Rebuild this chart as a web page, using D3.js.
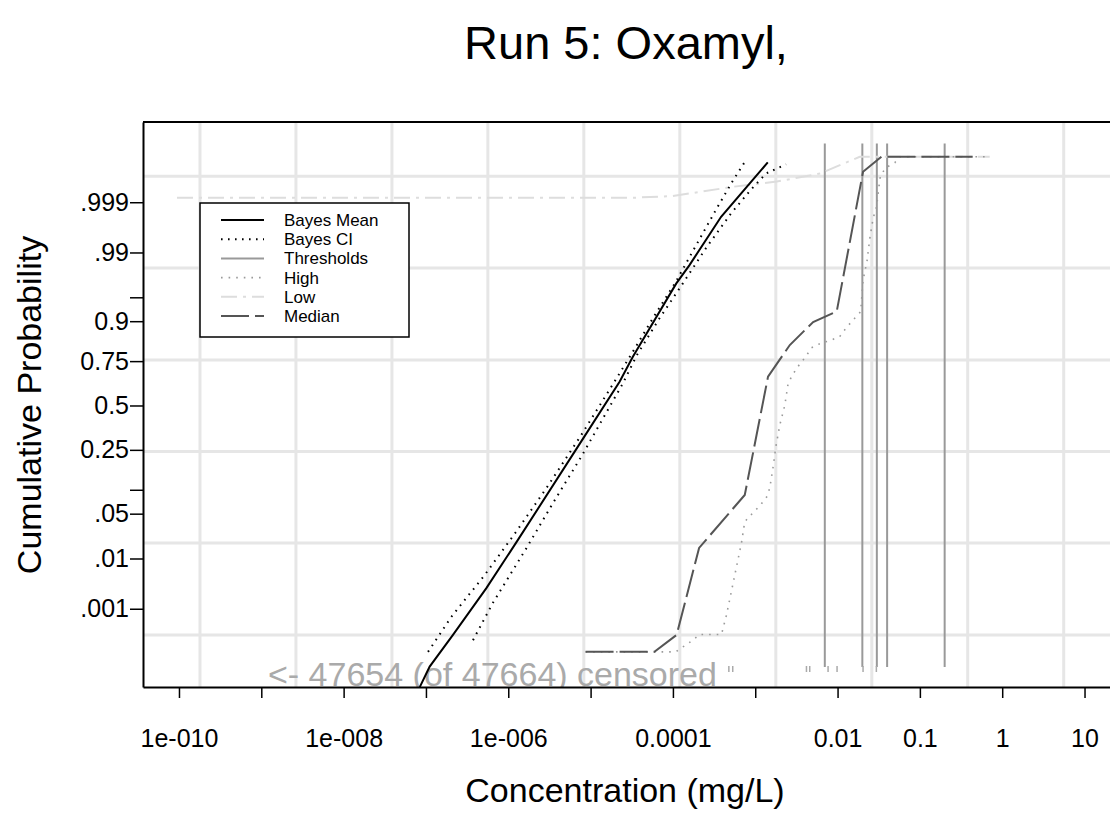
<!DOCTYPE html>
<html>
<head>
<meta charset="utf-8">
<script src="https://cdn.jsdelivr.net/npm/d3@7"></script>
<style>
body{margin:0;background:#fff}
svg{display:block;font-family:Arial,"Liberation Sans",sans-serif}
</style>
</head>
<body>
<svg id="canvas"></svg>
<script>
// values: concentration (mg/L) vs cumulative probability
let meanConc = [8.41e-8, 1.11e-7, 2.13e-7, 5.42e-7, 1.31e-6, 7.01e-6, 2.25e-5, 3.26e-5, 1.10e-4, 1.59e-4, 3.85e-4, 9.33e-4, 1.42e-3]
let meanProb = [9.3e-6, 3.6e-5, 2.43e-4, 0.00274, 0.0205, 0.2657, 0.6413, 0.7709, 0.9683, 0.9836, 0.99794, 0.99970, 0.999890]

let ciLowConc = [1.06e-7, 2.04e-7, 5.18e-7, 1.25e-6, 2.90e-6, 7.71e-6, 1.95e-5, 3.12e-5, 5.70e-5, 1.08e-4, 1.92e-4, 3.41e-4, 5.33e-4, 7.40e-4]
let ciLowProb = [9.0e-5, 6.6e-4, 0.0050, 0.0276, 0.1042, 0.3271, 0.6413, 0.7817, 0.9074, 0.9697, 0.99264, 0.99864, 0.99968, 0.999890]

let ciHighConc = [3.73e-7, 6.52e-7, 1.66e-6, 3.48e-6, 7.71e-6, 2.47e-5, 3.65e-5, 6.87e-5, 1.32e-4, 2.54e-4, 5.09e-4, 8.91e-4, 1.355e-3, 2.37e-3]
let ciHighProb = [1.8e-4, 0.00136, 0.0150, 0.0686, 0.2183, 0.6319, 0.7785, 0.9074, 0.9683, 0.99176, 0.99826, 0.99949, 0.99979, 0.999877]

let medianConc = [8.69e-6, 5.96e-5, 1.11e-4, 2.08e-4, 7.46e-4, 1.43e-3, 2.63e-3, 5.05e-3, 9.77e-3, 0.0204, 0.0341, 0.438]
let medianProb = [9.0e-5, 9.0e-5, 2.43e-4, 0.01516, 0.0869, 0.6693, 0.8209, 0.8978, 0.9235, 0.99981, 0.999922, 0.999922]

let highConc = [8.69e-6, 1.08e-4, 1.68e-4, 2.12e-4, 3.89e-4, 4.48e-4, 6.81e-4, 7.46e-4, 9.26e-4, 1.135e-3, 1.37e-3, 1.50e-3, 1.65e-3, 1.78e-3, 1.99e-3, 2.29e-3, 2.51e-3, 2.88e-3, 3.41e-3, 4.11e-3, 4.82e-3, 6.25e-3, 8.03e-3, 0.0106, 0.0126, 0.0154, 0.0191, 0.0204, 0.0228, 0.0246, 0.0270, 0.0297, 0.0319, 0.0332, 0.0385, 0.0495, 0.0569, 0.705]
let highProb = [9.0e-5, 9.0e-5, 1.7e-4, 2.5e-4, 2.5e-4, 7.3e-4, 0.0185, 0.0387, 0.0507, 0.0634, 0.0815, 0.1042, 0.1762, 0.2657, 0.3836, 0.503, 0.632, 0.684, 0.731, 0.771, 0.810, 0.828, 0.838, 0.852, 0.8796, 0.903, 0.923, 0.9717, 0.98595, 0.99435, 0.99777, 0.99871, 0.999575, 0.99976, 0.99985, 0.999888, 0.999922, 0.999922]

let lowConc = [9.46e-11, 3.26e-5, 9.98e-5, 5.35e-4, 1.83e-3, 6.17e-3, 0.0186, 0.705]
let lowProb = [0.999206, 0.999206, 0.999274, 0.999558, 0.999668, 0.99979, 0.999922, 0.999922]

let thresholds = [0.007, 0.02, 0.03, 0.04, 0.2]
let thresholdProbRange = [3.5e-5, 0.999966]
let detectConc = [4.78e-4, 5.33e-4, 4.19e-3, 4.59e-3, 7.67e-3, 9.86e-3, 0.0204, 0.0296]

let xTickValues = [1e-10, 1e-9, 1e-8, 1e-7, 1e-6, 1e-5, 1e-4, 1e-3, 1e-2, 1e-1, 1, 10]
let xTickLabels = ['1e-010', '', '1e-008', '', '1e-006', '', '0.0001', '', '0.01', '0.1', '1', '10']
let yTickProbs = [0.001, 0.01, 0.05, 0.1, 0.25, 0.5, 0.75, 0.9, 0.95, 0.99, 0.999]
let yTickLabels = ['.001', '.01', '.05', '', '0.25', '0.5', '0.75', '0.9', '', '.99', '.999']
// grid lines (log10 of concentration, normal scores)
let xGridExp = [-9.745, -8.579, -7.413, -6.248, -5.082, -3.916, -2.750, -1.584, -0.419, 0.747]
let yGridScores = [-3.49, -2.09, -0.70, 0.69, 2.09, 3.485]

let legendNames = ['Bayes Mean', 'Bayes CI', 'Thresholds', 'High', 'Low', 'Median']

let width = 1110
let height = 829
let plotLeft = 143, plotRight = 1114, plotTop = 122, plotBottom = 687

// inverse normal cdf (Acklam)
let probit = (p) => {
    let a = [-3.969683028665376e+01, 2.209460984245205e+02, -2.759285104469687e+02, 1.383577518672690e+02, -3.066479806614716e+01, 2.506628277459239e+00]
    let b = [-5.447609879822406e+01, 1.615858368580409e+02, -1.556989798598866e+02, 6.680131188771972e+01, -1.328068155288572e+01]
    let c = [-7.784894002430293e-03, -3.223964580411365e-01, -2.400758277161838e+00, -2.549732539343734e+00, 4.374664141464968e+00, 2.938163982698783e+00]
    let d = [7.784695709041462e-03, 3.224671290700398e-01, 2.445134137142996e+00, 3.754408661907416e+00]
    let pl = 0.02425
    if (p < pl) {
        let q = Math.sqrt(-2 * Math.log(p))
        return (((((c[0]*q+c[1])*q+c[2])*q+c[3])*q+c[4])*q+c[5]) / ((((d[0]*q+d[1])*q+d[2])*q+d[3])*q+1)
    } else if (p <= 1 - pl) {
        let q = p - 0.5, r = q * q
        return (((((a[0]*r+a[1])*r+a[2])*r+a[3])*r+a[4])*r+a[5])*q / (((((b[0]*r+b[1])*r+b[2])*r+b[3])*r+b[4])*r+1)
    } else {
        let q = Math.sqrt(-2 * Math.log(1 - p))
        return -(((((c[0]*q+c[1])*q+c[2])*q+c[3])*q+c[4])*q+c[5]) / ((((d[0]*q+d[1])*q+d[2])*q+d[3])*q+1)
    }
}

let xScale = d3.scaleLog().domain([Math.pow(10, -10.437), Math.pow(10, 1.358)]).range([plotLeft, plotRight])
let zScale = d3.scaleLinear().domain([-4.28, 4.31]).range([plotBottom, plotTop])
let yScale = (p) => zScale(probit(p))

let svg = d3.select('#canvas').attr('width', width).attr('height', height)

svg.append('defs').append('clipPath').attr('id', 'plotclip')
   .append('rect').attr('x', plotLeft).attr('y', plotTop).attr('width', plotRight - plotLeft).attr('height', plotBottom - plotTop)

let plot = svg.append('g').attr('clip-path', 'url(#plotclip)')

// grid
plot.selectAll('.vgrid').data(xGridExp).enter().append('line')
    .attr('x1', (e) => xScale(Math.pow(10, e))).attr('x2', (e) => xScale(Math.pow(10, e)))
    .attr('y1', plotTop).attr('y2', plotBottom)
    .attr('stroke', '#e6e6e6').attr('stroke-width', 3)
plot.selectAll('.hgrid').data(yGridScores).enter().append('line')
    .attr('y1', (z) => zScale(z)).attr('y2', (z) => zScale(z))
    .attr('x1', plotLeft).attr('x2', plotRight)
    .attr('stroke', '#e6e6e6').attr('stroke-width', 3)

// censored note
plot.append('text')
    .attr('x', 268).attr('y', plotBottom - 1)
    .attr('fill', '#aaaaaa').attr('font-size', 34)
    .text('<- 47654 (of 47664) censored')

let line = d3.line().x((d) => xScale(d[0])).y((d) => yScale(d[1]))
let pairs = (xs, ps) => xs.map((v, i) => [v, ps[i]])

let styles = {
    'Bayes Mean': {stroke: '#000', width: 2, dash: null},
    'Bayes CI': {stroke: '#000', width: 2, dash: '1.6,5.4'},
    'Thresholds': {stroke: '#999', width: 2, dash: null},
    'High': {stroke: '#9a9a9a', width: 1.6, dash: '1.6,6'},
    'Low': {stroke: '#dddddd', width: 2, dash: '16,6,3,6'},
    'Median': {stroke: '#555', width: 2, dash: '28,6'}
}

let drawPath = (data, name) => {
    let s = styles[name]
    plot.append('path')
        .datum(data)
        .attr('d', line)
        .attr('fill', 'none')
        .attr('stroke', s.stroke)
        .attr('stroke-width', s.width)
        .attr('stroke-dasharray', s.dash)
}

// thresholds
plot.selectAll('.thr').data(thresholds).enter().append('line')
    .attr('x1', (t) => xScale(t)).attr('x2', (t) => xScale(t))
    .attr('y1', yScale(thresholdProbRange[1])).attr('y2', yScale(thresholdProbRange[0]))
    .attr('stroke', '#999').attr('stroke-width', 2)

// detected values rug
plot.selectAll('.rug').data(detectConc).enter().append('line')
    .attr('x1', (c) => xScale(c)).attr('x2', (c) => xScale(c))
    .attr('y1', plotBottom - 21).attr('y2', plotBottom - 15)
    .attr('stroke', '#aaa').attr('stroke-width', 1.5)

drawPath(pairs(lowConc, lowProb), 'Low')
drawPath(pairs(highConc, highProb), 'High')
drawPath(pairs(medianConc, medianProb), 'Median')
drawPath(pairs(ciLowConc, ciLowProb), 'Bayes CI')
drawPath(pairs(ciHighConc, ciHighProb), 'Bayes CI')
drawPath(pairs(meanConc, meanProb), 'Bayes Mean')

// legend
let legend = svg.append('g')
legend.append('rect')
    .attr('x', 200).attr('y', 203).attr('width', 209).attr('height', 134)
    .attr('fill', '#fff').attr('stroke', '#000').attr('stroke-width', 1.5)
legendNames.forEach((name, i) => {
    let s = styles[name]
    let y = 220 + i * 19.2
    legend.append('line')
        .attr('x1', 221).attr('x2', 264).attr('y1', y).attr('y2', y)
        .attr('stroke', s.stroke).attr('stroke-width', s.width)
        .attr('stroke-dasharray', s.dash)
    legend.append('text')
        .attr('x', 284).attr('y', y + 6)
        .attr('font-size', 17)
        .text(name)
})

// axes
let xAxis = d3.axisBottom(xScale)
    .tickValues(xTickValues)
    .tickFormat((d, i) => xTickLabels[i])
    .tickSize(11).tickSizeOuter(0).tickPadding(31)
let yAxis = d3.axisLeft(zScale)
    .tickValues(yTickProbs.map(probit))
    .tickFormat((d, i) => yTickLabels[i])
    .tickSize(13).tickSizeOuter(0).tickPadding(1)

let gx = svg.append('g').attr('transform', 'translate(0,' + plotBottom + ')').call(xAxis)
gx.selectAll('text').attr('font-size', 25).attr('fill', '#000').attr('font-family', 'Arial,"Liberation Sans",sans-serif')
let gy = svg.append('g').attr('transform', 'translate(' + plotLeft + ',0)').call(yAxis)
gy.selectAll('text').attr('font-size', 25).attr('fill', '#000').attr('font-family', 'Arial,"Liberation Sans",sans-serif')
svg.selectAll('.domain').attr('stroke', '#000').attr('stroke-width', 2)
svg.selectAll('.tick line').attr('stroke', '#000').attr('stroke-width', 1.5)

svg.append('line').attr('x1', plotLeft).attr('x2', plotRight).attr('y1', plotTop).attr('y2', plotTop)
   .attr('stroke', '#000').attr('stroke-width', 2)

// titles
svg.append('text').attr('x', 626).attr('y', 59).attr('text-anchor', 'middle')
   .attr('font-size', 47).text('Run 5: Oxamyl,')
svg.append('text').attr('x', 625).attr('y', 802).attr('text-anchor', 'middle')
   .attr('font-size', 34).text('Concentration (mg/L)')
svg.append('text').attr('transform', 'translate(41,405) rotate(-90)').attr('text-anchor', 'middle')
   .attr('font-size', 34).text('Cumulative Probability')
</script>
</body>
</html>
